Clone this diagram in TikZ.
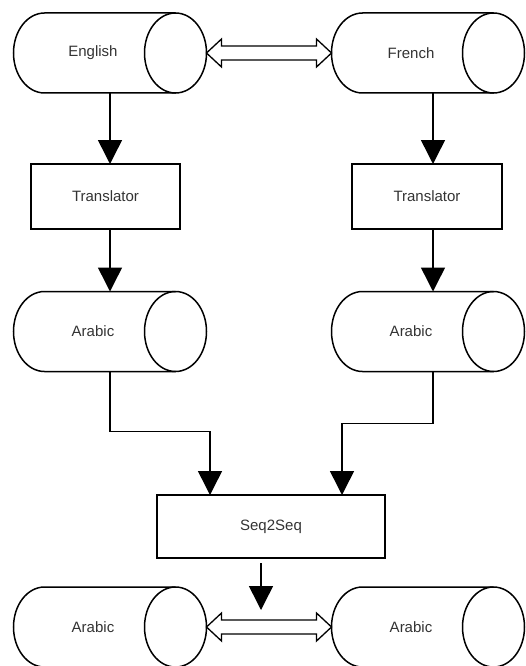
\documentclass[tikz,border=0pt]{standalone}
\usepackage{fontspec}
\setmainfont{Liberation Sans}
\usetikzlibrary{shapes,arrows,arrows.meta,positioning,calc}

\tikzset{
  store/.style={rectangle, inner sep=0pt, outer sep=0pt,
    minimum width=193pt, minimum height=80pt,
    font=\fontsize{15}{18}\selectfont, text=black!80},
  proc/.style={rectangle, draw, line width=1.5pt, inner sep=0pt, outer sep=0pt,
    font=\fontsize{15}{18}\selectfont, text=black!80},
  flow/.style={line width=1.5pt, -{Triangle[length=24pt,width=24pt]}},
  link/.style={draw, fill=white, line width=1.3pt, line join=miter,
    to path={let \p1=(\tikztostart), \p2=(\tikztotarget) in
      (\x1,\y1) -- (\x1+15pt,\y1+14pt) -- (\x1+15pt,\y1+7pt) -- (\x2-15pt,\y1+7pt)
      -- (\x2-15pt,\y1+14pt) -- (\x2,\y1) -- (\x2-15pt,\y1-14pt) -- (\x2-15pt,\y1-7pt)
      -- (\x1+15pt,\y1-7pt) -- (\x1+15pt,\y1-14pt) -- cycle}}
}

\begin{document}
\begin{tikzpicture}[x=1pt, y=-1pt]
\useasboundingbox (0,0) rectangle (525,666);
% sources
\node[store] (en) at (110,53) {English\hspace*{34pt}};
\node[store] (fr) at (428,53) {French\hspace*{34pt}};
% translators
\node[proc, minimum width=149pt, minimum height=65pt] (tl) at (105.5,196.5) {Translator};
\node[proc, minimum width=150pt, minimum height=65pt] (tr) at (427,196.5) {Translator};
% translated
\node[store] (al) at (110,331.5) {Arabic\hspace*{34pt}};
\node[store] (ar) at (428,331.5) {Arabic\hspace*{34pt}};
% model
\node[proc, minimum width=228pt, minimum height=63pt] (seq) at (271,526.5) {Seq2Seq};
\coordinate (inl) at (210,495);
\coordinate (inr) at (342,495);
\coordinate (out) at (261,610);
% results
\node[store] (bl) at (110,627) {Arabic\hspace*{34pt}};
\node[store] (br) at (428,627) {Arabic\hspace*{34pt}};

% cylinder outlines
\foreach \n in {en,fr,al,ar,bl,br} {
  \draw[line width=1.5pt] ([xshift=-31pt]\n.north east) -- ([xshift=31pt]\n.north west)
    arc[start angle=90, delta angle=180, x radius=31pt, y radius=40pt]
    -- ([xshift=-31pt]\n.south east);
  \draw[line width=1.5pt] ([xshift=-31pt]\n.east) ellipse[x radius=31pt, y radius=40pt];
}

\path[link] (en.east) to (fr.west);
\path[link] (bl.east) to (br.west);
\draw[flow] (en.south) -- (en.south |- tl.north);
\draw[flow] ([xshift=5pt]fr.south) -- ([xshift=5pt]fr.south |- tr.north);
\draw[flow] (en.south |- tl.south) -- (en.south |- al.north);
\draw[flow] ([xshift=5pt]fr.south |- tr.south) -- ([xshift=5pt]fr.south |- ar.north);
\draw[flow] (al.south) -- ++(0,60) -| (inl);
\draw[flow] ([xshift=5pt]ar.south) -- ++(0,52) -| (inr);
\draw[flow] ([yshift=-5pt]seq.south -| out) -- (out);
\end{tikzpicture}
\end{document}
